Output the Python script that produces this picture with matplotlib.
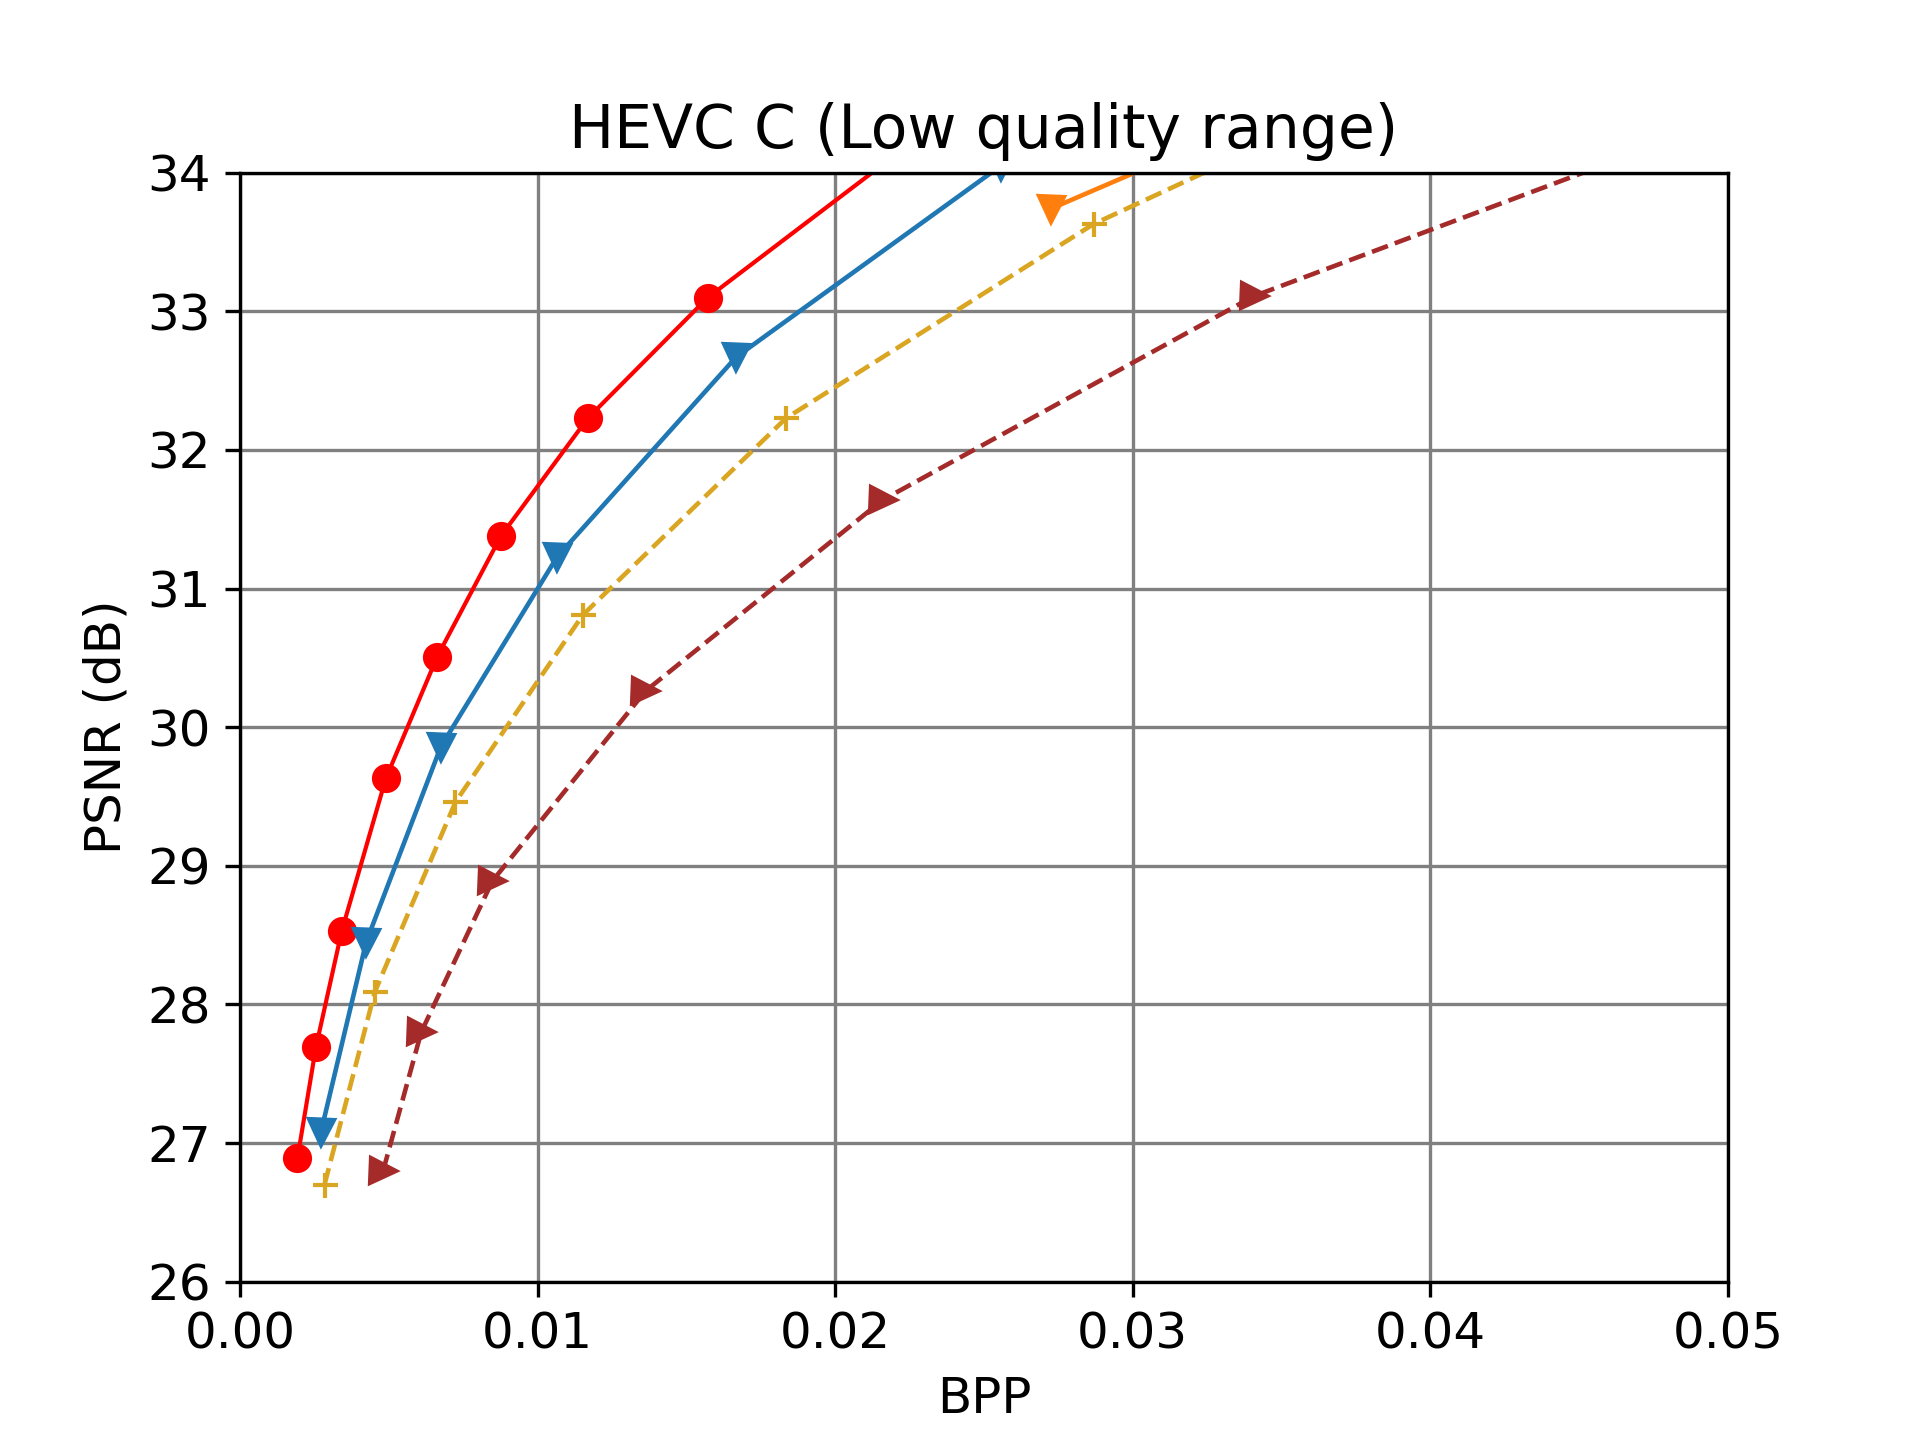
import numpy as np
import matplotlib
matplotlib.use("Agg")
import matplotlib.pyplot as plt

plt.rcParams['font.size']=12

# rate-distortion points (bpp, psnr)
red_bpp = [0.00193, 0.00255, 0.00342, 0.0049, 0.00663, 0.00877, 0.01169, 0.01572, 0.02675]
red_psnr = [26.89, 27.69, 28.53, 29.63, 30.51, 31.38, 32.23, 33.10, 34.90]

blue_bpp = [0.00272, 0.00424, 0.00675, 0.01066, 0.01667, 0.02556]
blue_psnr = [27.08, 28.45, 29.86, 31.23, 32.67, 34.05]

orange_bpp = [0.02724, 0.036]
orange_psnr = [33.74, 34.55]

gold_bpp = [0.00284, 0.00453, 0.00724, 0.01152, 0.01835, 0.02868, 0.040]
gold_psnr = [26.70, 28.09, 29.46, 30.81, 32.23, 33.63, 34.76]

brown_bpp = [0.00481, 0.00609, 0.00848, 0.01362, 0.0216, 0.03407, 0.0563]
brown_psnr = [26.80, 27.80, 28.89, 30.26, 31.64, 33.11, 34.90]

fig=plt.figure(figsize=(6.4,4.8))
ax=fig.add_subplot(111)
ax.plot(red_bpp,red_psnr,color='red',marker='o',lw=1)
ax.plot(blue_bpp,blue_psnr,color='tab:blue',marker='v',lw=1.1)
ax.plot(orange_bpp,orange_psnr,color='tab:orange',marker='v',lw=1.1)
ax.plot(gold_bpp,gold_psnr,color='goldenrod',marker='+',linestyle='--',lw=1.1)
ax.plot(brown_bpp,brown_psnr,color='brown',marker='>',linestyle='--',lw=1.1)

ax.set_xlim(0,0.05)
ax.set_ylim(26,34)
ax.grid(True,color='gray')
ax.set_title('HEVC C (Low quality range)')
ax.set_xlabel('BPP')
ax.set_ylabel('PSNR (dB)')
fig.savefig('out.png',dpi=300)
